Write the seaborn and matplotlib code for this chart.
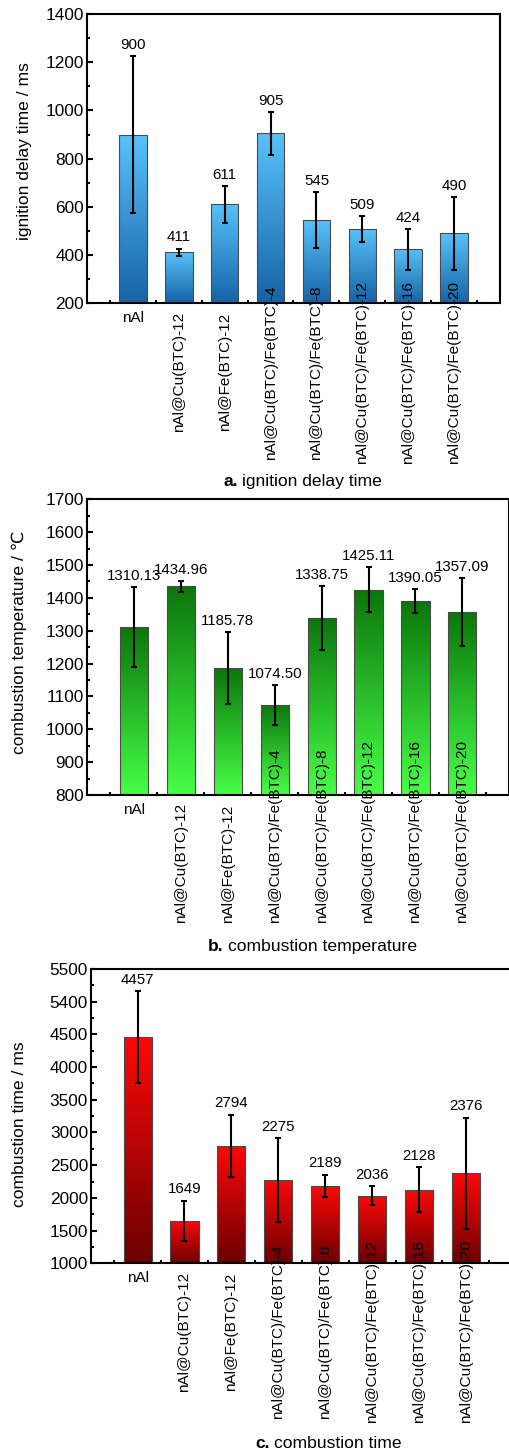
import numpy as np
import pandas as pd
import matplotlib
matplotlib.use("Agg")
import matplotlib.pyplot as plt
import seaborn as sns
from matplotlib.colors import LinearSegmentedColormap
from matplotlib.ticker import AutoMinorLocator, FixedLocator, MultipleLocator

# ---------------- data ----------------
samples = [
    "nAl",
    "nAl@Cu(BTC)-12",
    "nAl@Fe(BTC)-12",
    "nAl@Cu(BTC)/Fe(BTC)-4",
    "nAl@Cu(BTC)/Fe(BTC)-8",
    "nAl@Cu(BTC)/Fe(BTC)-12",
    "nAl@Cu(BTC)/Fe(BTC)-16",
    "nAl@Cu(BTC)/Fe(BTC)-20",
]

ignition_delay = [900, 411, 611, 905, 545, 509, 424, 490]
ignition_delay_err = [324, 16, 76, 88, 115, 54, 85, 152]

combustion_temp = [1310.13, 1434.96, 1185.78, 1074.50, 1338.75, 1425.11, 1390.05, 1357.09]
combustion_temp_err = [122, 17, 110, 61, 96, 68, 36, 103]

combustion_time = [4457, 1649, 2794, 2275, 2189, 2036, 2128, 2376]
combustion_time_err = [706, 311, 480, 639, 168, 143, 341, 851]

time_ticks = [1000, 1500, 2000, 2500, 3000, 3500, 4000, 4500, 5000, 5500]
time_ticklabels = ["1000", "1500", "2000", "2500", "3000", "3500", "4000", "4500", "5400", "5500"]

# ---------------- style ----------------
sns.set_style("ticks")
plt.rcParams["font.family"] = ["Liberation Sans", "DejaVu Sans"]
plt.rcParams.update({
    "axes.linewidth": 1.5,
    "text.color": "black",
    "axes.labelcolor": "black",
    "axes.edgecolor": "black",
    "xtick.color": "black",
    "ytick.color": "black",
})

W, H = 510, 1451
fig = plt.figure(figsize=(W / 100, H / 100), dpi=100)


def add_axes_px(left, top, right, bottom):
    return fig.add_axes([left / W, 1 - bottom / H, (right - left) / W, (bottom - top) / H])


def gradient_bars(ax, bottom_color, top_color, ymin):
    cmap = LinearSegmentedColormap.from_list("bar", [bottom_color, top_color])
    grad = np.linspace(0, 1, 256).reshape(-1, 1)
    for patch in ax.patches:
        x0 = patch.get_x()
        w = patch.get_width()
        top = patch.get_y() + patch.get_height()
        im = ax.imshow(grad, cmap=cmap, origin="lower", aspect="auto",
                       extent=[x0, x0 + w, ymin, top], zorder=1.5, interpolation="bilinear")
        im.set_clip_path(patch)
        patch.set_facecolor("none")
        patch.set_edgecolor("#4a4a4a")
        patch.set_linewidth(0.8)
        patch.set_zorder(2)


def panel(ax, values, errors, labels, bottom_color, top_color, ylim, ylabel,
          label_xy, label_va, label_pad_px, yticks=None, yticklabels=None, major=None):
    df = pd.DataFrame({"sample": samples, "value": values})
    sns.barplot(data=df, x="sample", y="value", order=samples, ax=ax,
                errorbar=None, width=0.6, color=top_color)
    gradient_bars(ax, bottom_color, top_color, ylim[0])
    x = np.arange(len(samples))
    ax.errorbar(x, values, yerr=errors, fmt="none", ecolor="black",
                elinewidth=1.5, capsize=2.5, capthick=1.5, zorder=5)
    for xi, v, e, txt in zip(x, values, errors, labels):
        ax.annotate(txt, (xi, v + e), xytext=(0, 3), textcoords="offset points",
                    ha="center", va="bottom", fontsize=10.8, zorder=6)

    ax.set_axisbelow(False)
    ax.set_xlim(-1, 8)
    ax.set_ylim(*ylim)
    if yticks is not None:
        ax.yaxis.set_major_locator(FixedLocator(yticks))
        ax.set_yticklabels(yticklabels)
    else:
        ax.yaxis.set_major_locator(MultipleLocator(major))
    ax.yaxis.set_minor_locator(AutoMinorLocator(2))
    ax.xaxis.set_minor_locator(FixedLocator(np.arange(-0.5, 8, 1.0)))

    for s in ax.spines.values():
        s.set_visible(True)
        s.set_linewidth(1.5)
        s.set_color("black")
        s.set_zorder(7)
    ax.tick_params(axis="y", which="major", direction="in", length=4, width=1.5,
                   labelsize=12.4, pad=2)
    ax.tick_params(axis="y", which="minor", direction="in", length=2.5, width=1.5)
    ax.tick_params(axis="x", which="major", length=0, labelsize=11,
                   pad=label_pad_px * 72 / 100)
    ax.tick_params(axis="x", which="minor", direction="in", length=2.0, width=1.5)

    ax.set_xlabel("")
    ax.set_ylabel(ylabel, fontsize=12.6)
    ax.yaxis.set_label_coords(*label_xy)

    ax.set_xticks(x)
    ax.set_xticklabels(samples)
    height_px = ax.get_window_extent().height
    for i, lab in enumerate(ax.get_xticklabels()):
        if i == 0:
            # the short "nAl" label sits horizontally just under the axis
            lab.set_rotation(0)
            lab.set_va("top")
            lab.set_y((label_pad_px - 8) / height_px)
        else:
            lab.set_rotation(90)
            lab.set_va(label_va)
        lab.set_ha("center")


def title(x_bold_end, y, bold, rest):
    fig.text(x_bold_end / W, 1 - y / H, bold, ha="right", va="center",
             fontsize=12.6, fontweight="bold")
    fig.text((x_bold_end + 4.9) / W, 1 - y / H, rest, ha="left", va="center",
             fontsize=12.6)


# a. ignition delay time
ax_a = add_axes_px(87, 14, 500, 303.3)
panel(ax_a, ignition_delay, ignition_delay_err, [f"{v:d}" for v in ignition_delay],
      "#1663a5", "#58c2fb", (200, 1400), "ignition delay time / ms",
      (-0.133, 0.526), "center", 69, major=200)
title(237.6, 481.7, "a.", "ignition delay time")

# b. combustion temperature
ax_b = add_axes_px(87, 499.3, 509.3, 795)
panel(ax_b, combustion_temp, combustion_temp_err, [f"{v:.2f}" for v in combustion_temp],
      "#47ff47", "#0b760b", (800, 1700), "combustion temperature / \u2103",
      (-0.142, 0.518), "bottom", 128, major=100)
title(223.6, 946.7, "b.", "combustion temperature")

# c. combustion time
ax_c = add_axes_px(90.7, 969, 512.8, 1263.3)
panel(ax_c, combustion_time, combustion_time_err, [f"{v:d}" for v in combustion_time],
      "#6a0000", "#ff0808", (1000, 5500), "combustion time / ms",
      (-0.151, 0.473), "center", 68.5, yticks=time_ticks, yticklabels=time_ticklabels)
title(269.6, 1443, "c.", "combustion time")

fig.savefig("out.png", dpi=100)
